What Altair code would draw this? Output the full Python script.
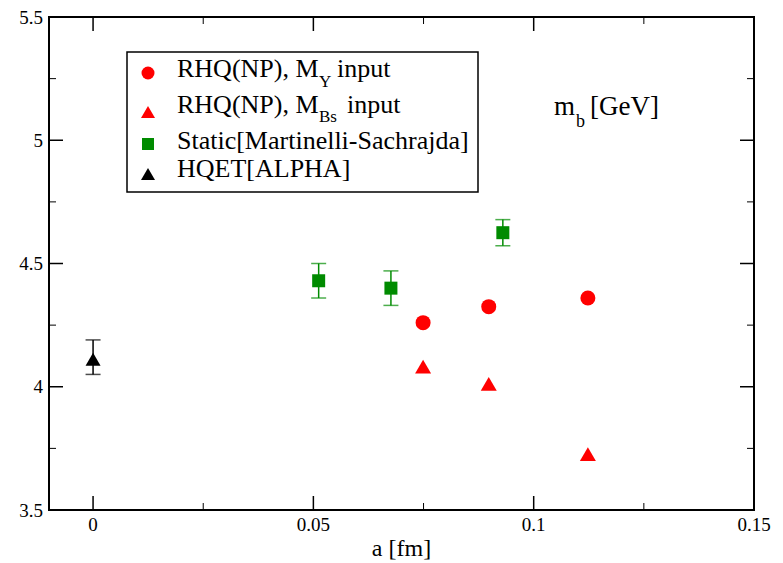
import altair as alt
import pandas as pd

# Lattice spacing a [fm] and b-quark mass m_b [GeV]
hqet_a = [0.0]
hqet_mb = [4.12]
hqet_err = [0.07]

static_a = [0.0512, 0.0676, 0.0930]
static_mb = [4.43, 4.40, 4.625]
static_err = [0.07, 0.07, 0.053]

rhq_a = [0.0749, 0.0898, 0.1123]
rhq_mb_upsilon = [4.26, 4.325, 4.36]
rhq_mb_bs = [4.09, 4.02, 3.735]

# axis ticks and their labels
x_major = [0, 0.05, 0.1, 0.15]
x_labels = ["0", "0.05", "0.1", "0.15"]
x_minor = [0.025, 0.075, 0.125]
y_major = [3.5, 4, 4.5, 5, 5.5]
y_labels = ["3.5", "4", "4.5", "5", "5.5"]
y_minor = [3.75, 4.25, 4.75, 5.25]

W, H = 705, 493
FONT = "Liberation Serif"
RED, GREEN, BLACK = "#ff0000", "#008b00", "#000000"

xs = alt.Scale(domain=[-0.01, 0.15], nice=False, zero=False)
ys = alt.Scale(domain=[3.5, 5.5], nice=False, zero=False)


def xq(field):
    return alt.X(field, type="quantitative", scale=xs, axis=None)


def yq(field):
    return alt.Y(field, type="quantitative", scale=ys, axis=None)


# inward tick marks on all four sides
def x_ticks(values, length, width, top=False):
    df = pd.DataFrame({"v": values})
    y0, y1 = (0, length) if top else (H, H - length)
    return alt.Chart(df).mark_rule(color="black", strokeWidth=width).encode(
        x=xq("v"), y=alt.value(y0), y2=alt.value(y1))


def y_ticks(values, length, width, right=False):
    df = pd.DataFrame({"v": values})
    x0, x1 = (W, W - length) if right else (0, length)
    return alt.Chart(df).mark_rule(color="black", strokeWidth=width).encode(
        y=yq("v"), x=alt.value(x0), x2=alt.value(x1))


tick_layers = [
    x_ticks(x_major, 14, 1.5),
    x_ticks(x_minor, 7, 1),
    x_ticks(x_major, 14, 1.5, top=True),
    x_ticks(x_minor, 7, 1, top=True),
    y_ticks(y_major, 14, 1.5),
    y_ticks(y_minor, 7, 1),
    y_ticks(y_major, 14, 1.5, right=True),
    y_ticks(y_minor, 7, 1, right=True),
]

# tick labels placed through the same scales
x_label_layer = alt.Chart(pd.DataFrame({"v": x_major, "t": x_labels})).mark_text(
    font=FONT, fontSize=19, color="black", align="center", baseline="alphabetic"
).encode(x=xq("v"), y=alt.value(H + 21), text="t:N")

y_label_layer = alt.Chart(pd.DataFrame({"v": y_major, "t": y_labels})).mark_text(
    font=FONT, fontSize=19, color="black", align="right", baseline="alphabetic", dy=6.5
).encode(y=yq("v"), x=alt.value(-6), text="t:N")


def error_bars(a, mb, err, color):
    df = pd.DataFrame({"a": a, "lo": [m - e for m, e in zip(mb, err)],
                       "hi": [m + e for m, e in zip(mb, err)]})
    stem = alt.Chart(df).mark_rule(color=color, strokeWidth=1.5).encode(
        x=xq("a"), y=yq("lo"), y2="hi")
    cap_lo = alt.Chart(df).mark_tick(color=color, orient="horizontal", size=15,
                                     thickness=1.5).encode(x=xq("a"), y=yq("lo"))
    cap_hi = alt.Chart(df).mark_tick(color=color, orient="horizontal", size=15,
                                     thickness=1.5).encode(x=xq("a"), y=yq("hi"))
    return [stem, cap_lo, cap_hi]


def points(a, mb, shape, color, size, dy=0):
    df = pd.DataFrame({"a": a, "mb": mb})
    return alt.Chart(df).mark_point(shape=shape, filled=True, color=color, size=size,
                                    opacity=1, yOffset=dy).encode(x=xq("a"), y=yq("mb"))


data_layers = (
    error_bars(hqet_a, hqet_mb, hqet_err, BLACK)
    + error_bars(static_a, static_mb, static_err, GREEN)
    + [
        points(hqet_a, hqet_mb, "triangle-up", BLACK, 225, 2),
        points(static_a, static_mb, "square", GREEN, 169),
        points(rhq_a, rhq_mb_upsilon, "circle", RED, 225),
        points(rhq_a, rhq_mb_bs, "triangle-up", RED, 256, 2),
    ]
)

# legend box with its entries
one = pd.DataFrame({"k": [0]})
legend_box = alt.Chart(one).mark_rect(fill="white", stroke="black", strokeWidth=1.5).encode(
    x=alt.value(78), x2=alt.value(429), y=alt.value(35), y2=alt.value(175))

legend_markers = [
    ("circle", RED, 169, 56),
    ("triangle-up", RED, 196, 95),
    ("square", GREEN, 144, 127),
    ("triangle-up", BLACK, 196, 157),
]
marker_layers = [
    alt.Chart(one).mark_point(shape=s, filled=True, color=c, size=sz, opacity=1).encode(
        x=alt.value(99), y=alt.value(yy))
    for s, c, sz, yy in legend_markers
]


def text(t, x, y, size, align="left"):
    return alt.Chart(one).mark_text(text=t, font=FONT, fontSize=size, color="black",
                                    align=align, baseline="alphabetic").encode(
        x=alt.value(x), y=alt.value(y))


label_layers = [
    text("RHQ(NP), M", 128, 60, 26),
    text("Y", 270, 70, 17),
    text("input", 288, 60, 26),
    text("RHQ(NP), M", 128, 96, 26),
    text("Bs", 270, 105, 17),
    text("input", 298, 96, 26),
    text("Static[Martinelli-Sachrajda]", 128, 132, 26),
    text("HQET[ALPHA]", 128, 160, 26),
    # quantity label
    text("m", 526, 98, 27, align="right"),
    text("b", 527, 110, 18),
    text("[GeV]", 610, 98, 27, align="right"),
    # x-axis title
    text("a [fm]", W / 2, H + 46, 24, align="center"),
]

chart = alt.layer(
    *tick_layers, x_label_layer, y_label_layer, *data_layers,
    legend_box, *marker_layers, *label_layers
).properties(
    width=W, height=H,
    padding={"left": 49, "top": 17, "right": 29, "bottom": 53},
    autosize=alt.AutoSizeParams(type="none"),
).configure_view(
    stroke="black", strokeWidth=2
)

chart.save("out.html", embed_options={"renderer": "svg", "actions": False})
